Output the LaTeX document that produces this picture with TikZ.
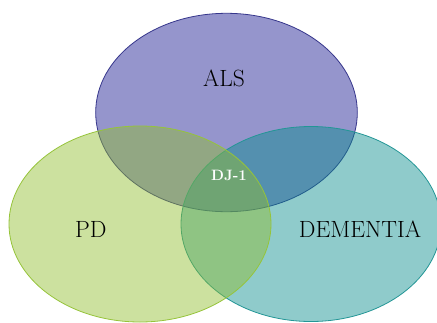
\documentclass[tikz,border=0pt]{standalone}
\definecolor{alsfill}{RGB}{22,22,144}
\definecolor{alsline}{RGB}{55,55,140}
\definecolor{pdfill}{RGB}{144,189,44}
\definecolor{pdline}{RGB}{150,196,58}
\definecolor{demfill}{RGB}{7,140,140}
\definecolor{demline}{RGB}{35,150,150}
\tikzset{
  setshape/.style={line width=0.8pt, fill opacity=0.45},
  biglabel/.style={font=\fontsize{23.5}{26}\selectfont, text=black, inner sep=0pt},
  smalllabel/.style={font=\fontsize{15}{18}\selectfont\bfseries, text=white, inner sep=0pt}
}
\begin{document}
\begin{tikzpicture}[x=1pt,y=-1pt]
\useasboundingbox (0,0) rectangle (437,322);
\fill[white] (0,0) rectangle (437,322);
\draw[setshape, draw=alsline, fill=alsfill] (226.5,112.5) ellipse [x radius=130.8, y radius=99.2];
\draw[setshape, draw=demline, fill=demfill] (311,224) ellipse [x radius=130, y radius=97.5];
\draw[setshape, draw=pdline, fill=pdfill] (140,224) ellipse [x radius=131, y radius=98];
\node[biglabel] (als) at (224,78.7) {ALS};
\node[biglabel] (pd) at (90.7,229) {PD};
\node[biglabel] (dem) at (360,229) {DEMENTIA};
\node[smalllabel] (dj) at (229,175) {DJ-1};
\end{tikzpicture}
\end{document}
